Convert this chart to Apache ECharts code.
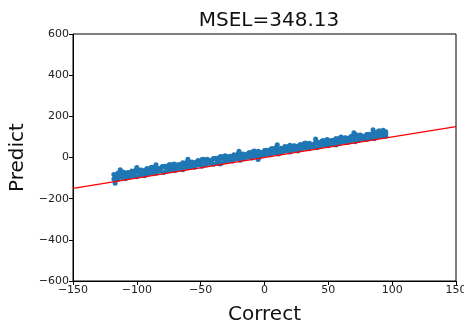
<!DOCTYPE html>
<html>
<head>
<meta charset="utf-8">
<script src="https://cdn.jsdelivr.net/npm/echarts@6/dist/echarts.min.js"></script>
<style>html,body{margin:0;padding:0;background:#fff}#c{width:464px;height:323px}</style>
</head>
<body>
<div id="c"></div>
<script>
const titleText = 'MSEL=348.13';
const xName = 'Correct';
const yName = 'Predict';
const xTicks = { min: -150, max: 150, interval: 50 };
const yTicks = { min: -600, max: 600, interval: 200 };
const refLineX = [-150, 150];
const refLineY = [-150, 150];

const correctA = [-118,-116,-114,-112,-110,-108,-106,-104,-102,-100,-98,-96,-94,-92,-90,-88,-86,-84,-82,-80,-78,-76,-74,-72,-70,-68,-66,-64,-62,-60,-58,-56,-54,-52,-50,-48,-46,-44,-42,-40,-38,-36,-34,-32,-30,-28,-26,-24,-22,-20,-18,-16,-14,-12,-10,-8,-6,-4,-2,0,2,4,6,8,10,12,14,16,18,20,22,24,26,28,30,32,34,36,38,40,42,44,46,48,50,52,54,56,58,60,62,64,66,68,70,72,74,76,78,80,82,84,86,88,90,92,94];
const predictA = [-83,-94,-74,-85,-73,-89,-74,-65,-78,-58,-70,-62,-73,-54,-64,-47,-63,-51,-64,-44,-43,-54,-34,-46,-34,-50,-35,-26,-39,-19,-31,-23,-34,-15,-25,-8,-24,-12,-25,-5,-4,-15,5,-6,6,-10,5,13,0,20,8,16,5,24,14,31,15,27,14,34,35,24,44,33,45,29,44,53,40,60,48,56,45,63,53,70,54,66,53,73,74,63,83,72,84,68,83,92,79,99,87,95,84,103,93,110,94,106,92,112,113,102,122,111,123,107,122];
const correctB = [-117,-115,-113,-111,-109,-107,-105,-103,-101,-99,-97,-95,-93,-91,-89,-87,-85,-83,-81,-79,-77,-75,-73,-71,-69,-67,-65,-63,-61,-59,-57,-55,-53,-51,-49,-47,-45,-43,-41,-39,-37,-35,-33,-31,-29,-27,-25,-23,-21,-19,-17,-15,-13,-11,-9,-7,-5,-3,-1,1,3,5,7,9,11,13,15,17,19,21,23,25,27,29,31,33,35,37,39,41,43,45,47,49,51,53,55,57,59,61,63,65,67,69,71,73,75,77,79,81,83,85,87,89,91,93,95];
const predictB = [-92,-77,-84,-70,-89,-73,-82,-72,-62,-72,-61,-77,-60,-67,-49,-59,-48,-62,-51,-44,-52,-37,-45,-31,-50,-34,-43,-33,-23,-33,-22,-38,-21,-28,-10,-20,-9,-23,-12,-5,-13,2,-5,9,-10,6,-3,7,16,6,17,1,18,11,29,19,30,16,27,34,26,41,34,48,29,45,36,46,56,46,57,41,57,50,68,58,69,55,66,73,65,80,73,87,68,84,75,85,95,85,96,80,97,90,108,98,109,95,105,112,104,119,112,126,107,123,114];
const correctD = [-118,-115,-112,-109,-106,-103,-100,-97,-94,-91,-88,-85,-82,-79,-76,-73,-70,-67,-64,-61,-58,-55,-52,-49,-46,-43,-40,-37,-34,-31,-28,-25,-22,-19,-16,-13,-10,-7,-4,-1,2,5,8,11,14,17,20,23,26,29,32,35,38,41,44,47,50,53,56,59,62,65,68,71,74,77,80,83,86,89,92,95];
const predictD = [-105,-107,-97,-103,-96,-89,-93,-85,-89,-80,-75,-77,-67,-73,-66,-59,-63,-55,-59,-50,-45,-47,-37,-43,-36,-29,-33,-25,-29,-20,-15,-17,-7,-13,-6,1,-3,5,1,10,15,13,23,17,24,31,27,35,31,40,45,43,53,47,54,61,57,65,61,70,75,73,83,77,84,91,87,95,91,100,105,103];
const correctC = [-117,-113,-100,-85,-60,-35,-20,-5,10,40,55,70,85,90,93,95];
const predictC = [-125,-60,-48,-35,-8,-32,30,-10,62,90,65,120,135,130,132,125];

const points = [];
[[correctD, predictD], [correctA, predictA], [correctB, predictB], [correctC, predictC]].forEach(([xs, ys]) => {
  xs.forEach((x, i) => points.push([x, ys[i]]));
});
const refLine = refLineX.map((x, i) => [x, refLineY[i]]);

const FONT = 'DejaVu Sans';
const chart = echarts.init(document.getElementById('c'), null, { renderer: 'canvas' });
const axisCommon = {
  axisLine: { show: true, onZero: false, lineStyle: { color: '#000', width: 1 } },
  axisTick: { show: true, inside: false, length: 4, lineStyle: { color: '#000', width: 1 } },
  splitLine: { show: false },
  axisLabel: { color: '#222', fontSize: 11, fontFamily: FONT, margin: 4,
    formatter: v => (v < 0 ? '\u2212' + Math.abs(v) : String(v)) },
  nameTextStyle: { color: '#111', fontSize: 20, fontFamily: FONT },
  nameLocation: 'middle'
};
chart.setOption({
  animation: false,
  backgroundColor: '#fff',
  title: {
    text: titleText, left: 264, top: 6, textAlign: 'center',
    textStyle: { fontSize: 20, fontWeight: 'normal', color: '#111', fontFamily: FONT }
  },
  grid: { left: 73, right: 8, top: 34, bottom: 42, show: true, borderColor: '#000', borderWidth: 1,
    containLabel: false, outerBoundsMode: 'none' },
  xAxis: Object.assign({}, axisCommon, { type: 'value', name: xName, nameGap: 24,
    min: xTicks.min, max: xTicks.max, interval: xTicks.interval }),
  yAxis: Object.assign({}, axisCommon, { type: 'value', name: yName, nameGap: 43,
    min: yTicks.min, max: yTicks.max, interval: yTicks.interval }),
  series: [
    { type: 'scatter', data: points, symbol: 'circle', symbolSize: 5,
      itemStyle: { color: '#1f77b4', opacity: 1 }, silent: true },
    { type: 'line', data: refLine, showSymbol: false, symbol: 'none',
      lineStyle: { color: '#ff0000', width: 1.5 }, silent: true, z: 3 }
  ]
});
</script>
</body>
</html>
